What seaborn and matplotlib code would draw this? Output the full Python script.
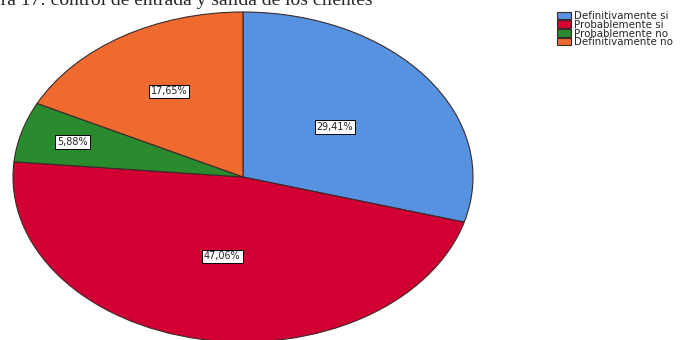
import numpy as np
import matplotlib
matplotlib.use("Agg")
import matplotlib.pyplot as plt
import seaborn as sns

# data (17 respondents)
categories = ["Definitivamente si", "Probablemente si", "Probablemente no", "Definitivamente no"]
counts = [5, 8, 1, 3]
colors = ["#5792E1", "#D20032", "#2A8A2E", "#EF6A2F"]
title = "Figura 17: control de entrada y salida de los clientes"

sns.set_style("white")
plt.rcParams["font.family"] = ["DejaVu Sans"]

fig = plt.figure(figsize=(6.81, 3.40), dpi=100)

# pie drawn as an ellipse (axes aspect left free)
ax = fig.add_axes([13 / 681, -2 / 340, 460 / 681, 330 / 340])


def fmt(p):
    return f"{p:.2f}%".replace(".", ",")


wedges, texts, autotexts = ax.pie(
    counts, colors=colors, startangle=90, counterclock=False,
    autopct=fmt, pctdistance=0.5,
    wedgeprops=dict(edgecolor="#3a2a2a", linewidth=0.8),
    textprops=dict(fontsize=6.9, color="#222222"),
)
ax.set_aspect("auto")
ax.set_xlim(-1, 1)
ax.set_ylim(-1, 1)
ax.axis("off")

# per-wedge label radius as placed in the original
label_r = [0.50, 0.49, 0.77, 0.61]
for w, t, r in zip(wedges, autotexts, label_r):
    ang = np.deg2rad((w.theta1 + w.theta2) / 2)
    t.set_position((r * np.cos(ang), r * np.sin(ang)))
    t.set_bbox(dict(boxstyle="square,pad=0.2", facecolor="white",
                    edgecolor="black", linewidth=0.7))

# title, clipped at the top-left as in the source image
fig.text(373 / 681, 1 - 5 / 340, title, ha="right", va="baseline",
         fontsize=14, family=["Liberation Serif", "DejaVu Serif"])

fig.legend(wedges, categories, loc="upper left",
           bbox_to_anchor=(557 / 681, 1 - 11 / 340),
           frameon=False, fontsize=7.4, handlelength=1.35, handleheight=0.75,
           handletextpad=0.3, labelspacing=-0.12, borderaxespad=0, borderpad=0)

fig.savefig("out.png", dpi=100)
